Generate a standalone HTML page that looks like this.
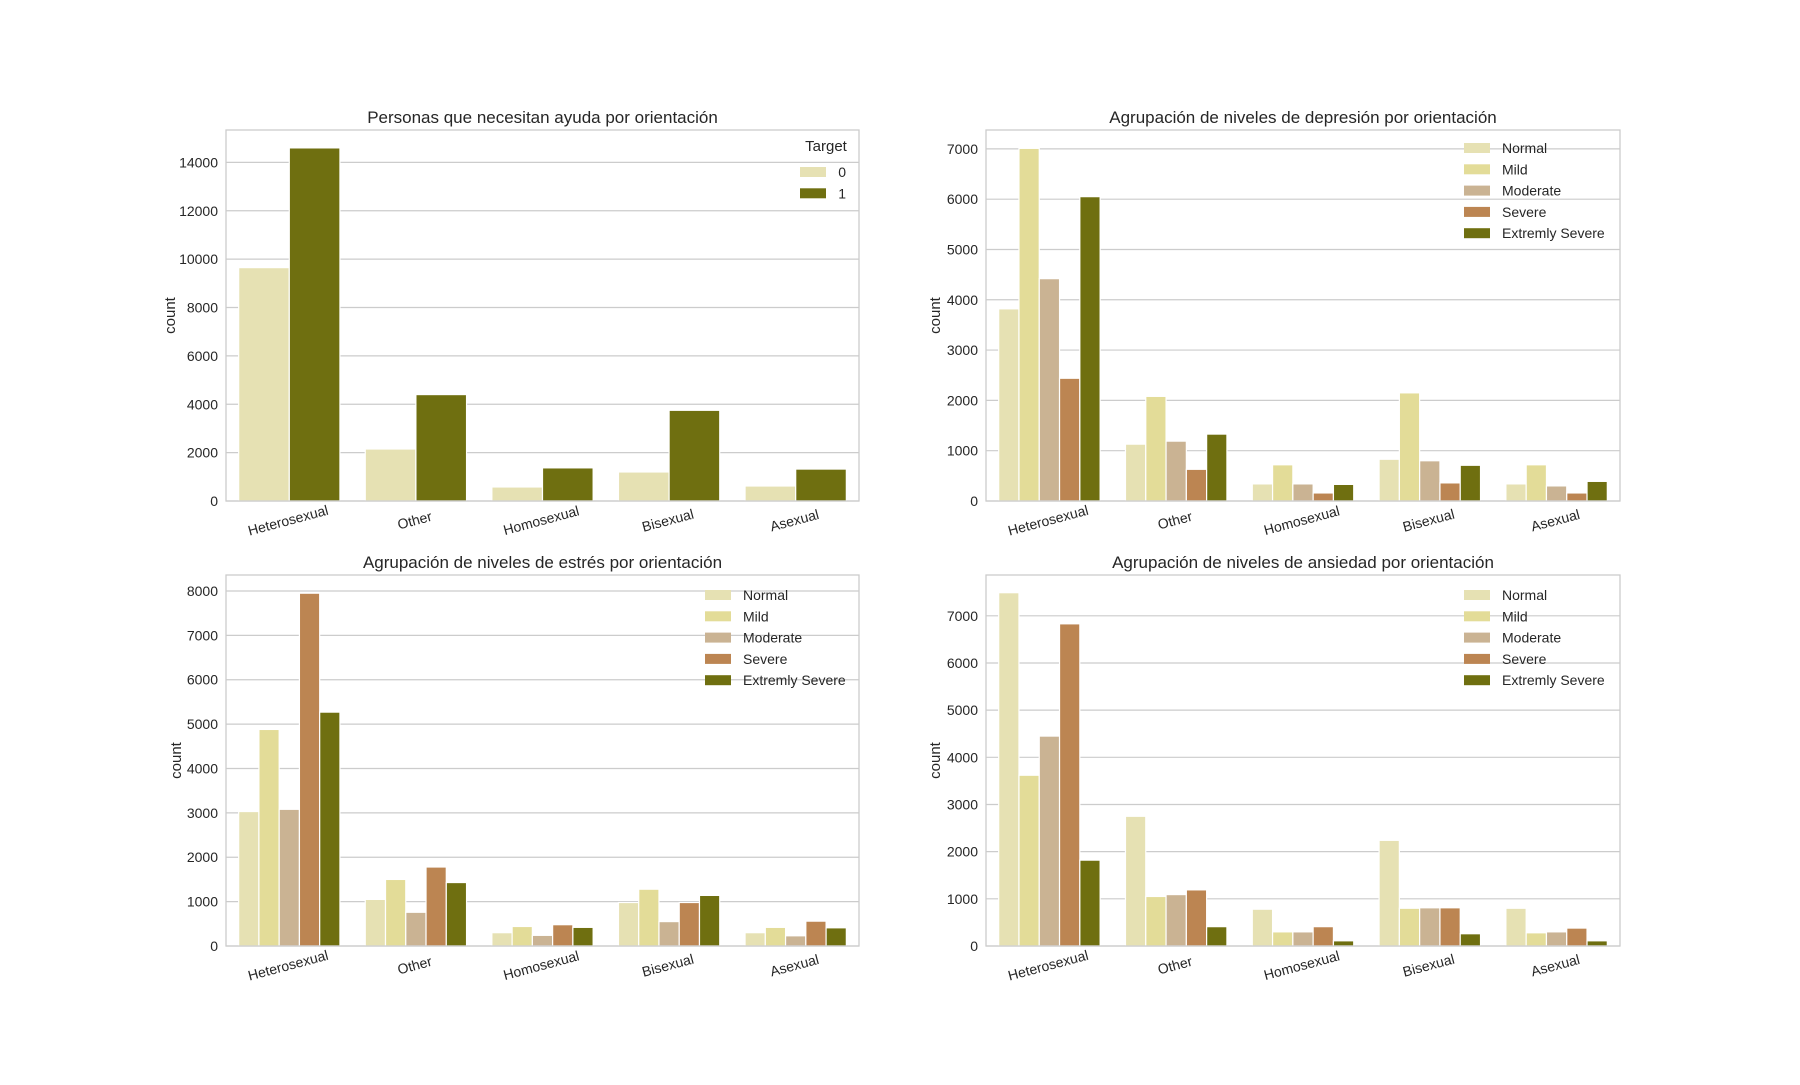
<!DOCTYPE html>
<html><head><meta charset="utf-8"><style>
body{margin:0;background:#fff;font-family:"Liberation Sans",Arial,sans-serif}
svg text{font-family:"Liberation Sans",Arial,sans-serif;fill:#262626}
</style></head><body>
<svg id="fig" width="1800" height="1080" xmlns="http://www.w3.org/2000/svg"></svg>
<script>
const categories=["Heterosexual","Other","Homosexual","Bisexual","Asexual"];
const targetLevels=["0","1"];
const levels=["Normal","Mild","Moderate","Severe","Extremly Severe"];
const target0=[9650,2150,580,1200,620];
const target1=[14600,4400,1370,3750,1320];
const depNormal=[3820,1130,340,830,340];
const depMild=[7010,2080,720,2150,720];
const depModerate=[4420,1190,340,800,300];
const depSevere=[2440,630,160,360,160];
const depExtreme=[6050,1330,330,710,390];
const strNormal=[3030,1050,300,980,300];
const strMild=[4880,1500,440,1280,420];
const strModerate=[3080,760,240,550,230];
const strSevere=[7950,1780,480,980,560];
const strExtreme=[5270,1430,420,1140,410];
const anxNormal=[7490,2750,780,2240,800];
const anxMild=[3620,1050,300,800,280];
const anxModerate=[4450,1090,300,810,300];
const anxSevere=[6830,1190,410,810,380];
const anxExtreme=[1820,410,110,260,110];
const ticks1=[0,2000,4000,6000,8000,10000,12000,14000];
const ticks2=[0,1000,2000,3000,4000,5000,6000,7000];
const ticks3=[0,1000,2000,3000,4000,5000,6000,7000,8000];
const ticks4=[0,1000,2000,3000,4000,5000,6000,7000];

const NS="http://www.w3.org/2000/svg";
const svg=document.getElementById('fig');
function mk(tag,attrs,parent){const e=document.createElementNS(NS,tag);for(const k in attrs)e.setAttribute(k,attrs[k]);(parent||svg).appendChild(e);return e;}
const colors5=["#e6e1b3","#e3dc98","#cab393","#bc8552","#6f6f10"];
const colors2=["#e6e1b3","#6f6f10"];

function panel(o){
  const g=mk('g',{});
  
  
  const {L,R,T,B,ymax}=o;
  const ys=v=>B-(v/ymax)*(B-T);
  const band=(R-L)/categories.length;
  const xs=i=>L+band*(i+0.5);
  o.ticks.forEach(t=>{
    const gl=mk('line',{x1:L,x2:R,y1:ys(t),y2:ys(t),stroke:'#cccccc','stroke-width':1.2},g);
    
    
    const tl=mk('text',{x:L-8,y:ys(t)+5,'text-anchor':'end','font-size':14},g);
    
    
    tl.textContent=t;
  });
  const n=o.series.length;
  const w=band*0.8/n;
  o.series.forEach((s,si)=>{
    s.forEach((v,ci)=>{
      const x=xs(ci)-band*0.4+si*w;
      const r=mk('rect',{x:x,y:ys(v),width:w,height:B-ys(v),fill:o.colors[si],stroke:'#fff','stroke-width':1.2},g);
      
      
    });
  });
  const fr=mk('rect',{x:L,y:T,width:R-L,height:B-T,fill:'none',stroke:'#cccccc','stroke-width':1.3},g);
  
  
  categories.forEach((c,ci)=>{
    const x=xs(ci),y=B+24;
    const t=mk('text',{x:x,y:y,'text-anchor':'middle','font-size':14,transform:`rotate(-15 ${x} ${y})`},g);
    
    
    t.textContent=c;
  });
  const ti=mk('text',{x:(L+R)/2,y:T-7,'text-anchor':'middle','font-size':17},g);
  
  
  ti.textContent=o.title;
  const yl=mk('text',{x:o.ylx,y:(T+B)/2,'text-anchor':'middle','font-size':15,transform:`rotate(-90 ${o.ylx} ${(T+B)/2})`},g);
  
  
  yl.textContent='count';
  let ly=o.legY;
  if(o.legTitle){
    const lt=mk('text',{x:o.legX+26,y:ly-12,'text-anchor':'middle','font-size':15},g);
    
    
    lt.textContent=o.legTitle;
    ly+=9;
  }
  o.labels.forEach((lab,i)=>{
    const yy=ly+i*21.3;
    const sw=mk('rect',{x:o.legX,y:yy-5,width:26,height:10,fill:o.colors[i]},g);
    
    
    const lt=mk('text',{x:o.legTextX,y:yy+5,'font-size':14,'text-anchor':o.legTitle?'end':'start'},g);
    
    
    lt.textContent=lab;
  });
}
panel({name:'chart-target',L:226,R:859,T:130,B:501,ymax:15340,ticks:ticks1,series:[target0,target1],colors:colors2,labels:targetLevels,title:'Personas que necesitan ayuda por orientación',ylx:175,legX:800,legTextX:846,legY:163,legTitle:'Target'});
panel({name:'chart-depression',L:986,R:1620,T:130,B:501,ymax:7375,ticks:ticks2,series:[depNormal,depMild,depModerate,depSevere,depExtreme],colors:colors5,labels:levels,title:'Agrupación de niveles de depresión por orientación',ylx:940,legX:1464,legTextX:1502,legY:148});
panel({name:'chart-stress',L:226,R:859,T:575,B:946,ymax:8360,ticks:ticks3,series:[strNormal,strMild,strModerate,strSevere,strExtreme],colors:colors5,labels:levels,title:'Agrupación de niveles de estrés por orientación',ylx:181,legX:705,legTextX:743,legY:595});
panel({name:'chart-anxiety',L:986,R:1620,T:575,B:946,ymax:7865,ticks:ticks4,series:[anxNormal,anxMild,anxModerate,anxSevere,anxExtreme],colors:colors5,labels:levels,title:'Agrupación de niveles de ansiedad por orientación',ylx:940,legX:1464,legTextX:1502,legY:595});
</script>
</body></html>
